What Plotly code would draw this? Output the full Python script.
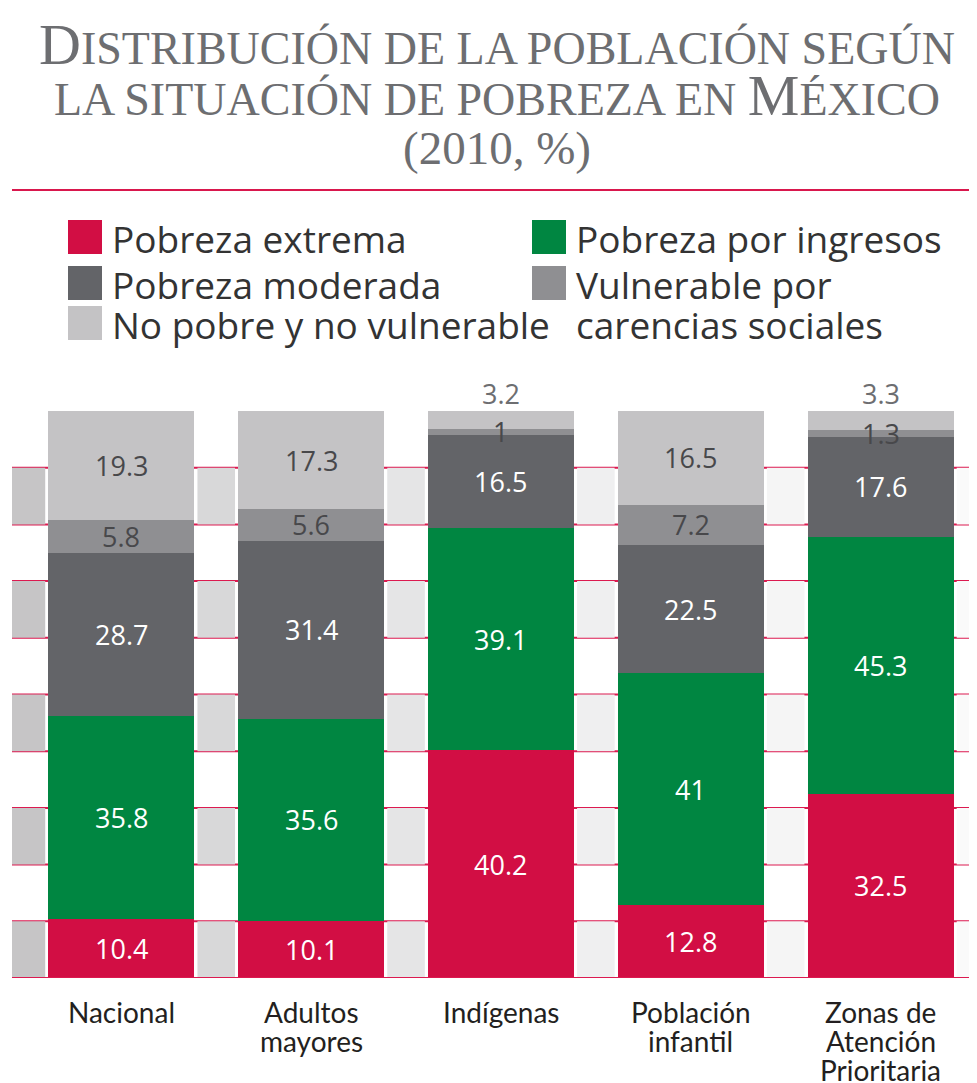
import plotly.graph_objects as go

categories = ["Nacional", "Adultos mayores", "Indígenas", "Población infantil", "Zonas de Atención Prioritaria"]
tick_lines = [["Nacional"], ["Adultos", "mayores"], ["Indígenas"], ["Población", "infantil"],
              ["Zonas de", "Atención", "Prioritaria"]]

series_names = ["Pobreza extrema", "Pobreza por ingresos", "Pobreza moderada",
                "Vulnerable por carencias sociales", "No pobre y no vulnerable"]
extrema = [10.4, 10.1, 40.2, 12.8, 32.5]
ingresos = [35.8, 35.6, 39.1, 41, 45.3]
moderada = [28.7, 31.4, 16.5, 22.5, 17.6]
vulnerable = [5.8, 5.6, 1, 7.2, 1.3]
no_pobre = [19.3, 17.3, 3.2, 16.5, 3.3]

colors = ["#d20e44", "#008641", "#636468", "#8f8f92", "#c4c3c5"]
text_colors = ["white", "white", "white", "#48484b", "#48484b"]

# the page body has an 8px margin, so the figure is sized/offset for it
OFF = 8
W, H = 977 - OFF, 1083 - OFF
ML, MR, MT, MB = 12 - OFF, 0, 411 - OFF, 105
pw, ph = W - ML - MR, H - MT - MB


def px(x):
    # screenshot pixel -> paper x
    return (x - OFF - ML) / pw


def py(y):
    # screenshot pixel -> paper y
    return (OFF + H - MB - y) / ph


fig = go.Figure()
all_series = [extrema, ingresos, moderada, vulnerable, no_pobre]
for name, vals, col in zip(series_names, all_series, colors):
    fig.add_trace(go.Bar(
        x=categories, y=vals, name=name, width=0.77,
        marker=dict(color=col, line=dict(width=0)),
        showlegend=False, hoverinfo="skip",
    ))

annotations = []
# value labels, drawn as annotations so thin segments keep their label on top
base = [0] * len(categories)
for i, (vals, tcol) in enumerate(zip(all_series, text_colors)):
    for j, v in enumerate(vals):
        top = round(base[j] + v, 6)
        if i == len(all_series) - 1 and v < 5:
            annotations.append(dict(text=str(v), x=categories[j], y=top, xref="x", yref="y",
                                    yanchor="middle", yshift=18, showarrow=False,
                                    font=dict(family="Open Sans", size=27, color="#6d6e71")))
        else:
            annotations.append(dict(text=str(v), x=categories[j], y=round(base[j] + v / 2, 6),
                                    xref="x", yref="y", yanchor="middle", showarrow=False,
                                    font=dict(family="Open Sans", size=27, color=tcol)))
        base[j] = top

shapes = []
# background bands in the gaps between bars (lighter towards the right)
gap_fill = ["#c6c5c6", "#d8d8d9", "#e5e5e6", "#efeff0", "#f5f5f5", "#fafafa"]
x_lo, x_hi = -0.576, 4.508
half = 0.385
for k, fc in enumerate(gap_fill):
    x0 = x_lo if k == 0 else k - 1 + half + 0.016
    x1 = x_hi if k == 5 else k - half - 0.016
    for b in range(0, 90, 20):
        shapes.append(dict(type="rect", xref="x", yref="y", x0=x0, x1=x1, y0=b, y1=b + 10,
                           fillcolor=fc, line=dict(width=0), layer="below"))
for g in range(10, 100, 10):
    shapes.append(dict(type="line", xref="paper", yref="y", x0=0, x1=1, y0=g, y1=g,
                       line=dict(color="#dc1a50", width=2), layer="below"))
shapes.append(dict(type="line", xref="paper", yref="y", x0=0, x1=1, y0=0, y1=0,
                   line=dict(color="#dc1a50", width=2), layer="above"))
# rule under the title
shapes.append(dict(type="line", xref="paper", yref="paper", x0=0, x1=1, y0=py(190), y1=py(190),
                   line=dict(color="#d9174d", width=2)))

# title in small caps
sc = 46
big = 58
title_lines = [
    f'<span style="font-size:{big}px">D</span>ISTRIBUCIÓN DE LA POBLACIÓN SEGÚN',
    f'LA SITUACIÓN DE POBREZA EN <span style="font-size:{big}px">M</span>ÉXICO',
    '<span style="font-size:47px">(2010, %)</span>',
]
for line, yc in zip(title_lines, [45, 95, 148]):
    annotations.append(dict(text=line, xref="paper", yref="paper", x=px(497), y=py(yc),
                            xanchor="center", yanchor="middle", showarrow=False,
                            font=dict(family="Liberation Serif", size=sc, color="#6d6e71")))

# legend
leg = [
    (colors[0], 68, 237, ["Pobreza extrema"]),
    (colors[2], 68, 283, ["Pobreza moderada"]),
    (colors[4], 68, 323, ["No pobre y no vulnerable"]),
    (colors[1], 532, 237, ["Pobreza por ingresos"]),
    (colors[3], 532, 283, ["Vulnerable por", "carencias sociales"]),
]
for col, x0, yc, lines in leg:
    shapes.append(dict(type="rect", xref="paper", yref="paper", x0=px(x0), x1=px(x0 + 34),
                       y0=py(yc + 17), y1=py(yc - 17), fillcolor=col, line=dict(width=0)))
    for j, t in enumerate(lines):
        annotations.append(dict(text=t, xref="paper", yref="paper", x=px(x0 + 42), y=py(yc + 1 + 41 * j),
                                xanchor="left", yanchor="middle", showarrow=False,
                                font=dict(family="Open Sans", size=37, color="#333333")))

# category labels, line by line
for cat, lines in zip(categories, tick_lines):
    for j, t in enumerate(lines):
        annotations.append(dict(text=t, x=cat, y=0, xref="x", yref="y", yanchor="middle",
                                yshift=-34 - 29 * j, showarrow=False,
                                font=dict(family="Lato", size=28, color="#231f20")))

fig.update_layout(
    width=W, height=H, barmode="stack",
    margin=dict(l=ML, r=MR, t=MT, b=MB),
    paper_bgcolor="white", plot_bgcolor="white",
    xaxis=dict(range=[x_lo, x_hi], showticklabels=False, showgrid=False, zeroline=False, fixedrange=True),
    yaxis=dict(range=[0, 100], showticklabels=False, showgrid=False, zeroline=False, fixedrange=True),
    shapes=shapes, annotations=annotations, showlegend=False,
)

fig.write_html("out.html")
